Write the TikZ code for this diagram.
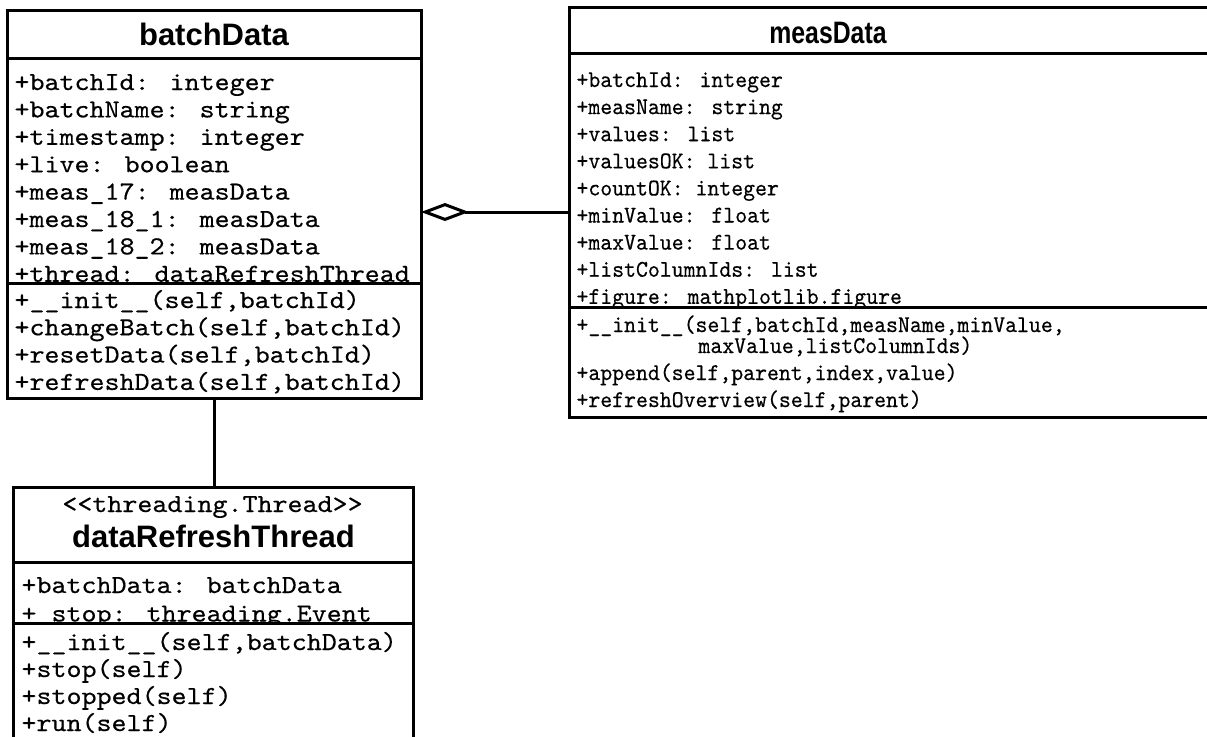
\documentclass[tikz,border=0pt]{standalone}
\usepackage{fontspec}
\setmainfont{Liberation Sans}
\newfontfamily\monoA[Ligatures=TeXOff,FakeStretch=1.1,FakeBold=0.4]{lmmono10-regular.otf}
\newfontfamily\monoB[Ligatures=TeXOff,FakeStretch=0.945,FakeBold=0.4]{lmmono10-regular.otf}
\newfontfamily\titA{Liberation Sans}
\newfontfamily\titB[FakeStretch=0.8]{Liberation Sans}
\usetikzlibrary{arrows.meta}
\begin{document}
\begin{tikzpicture}[x=0.5pt,y=-0.5pt,line width=1.5pt,
  ma/.style={font={\monoA\fontsize{13pt}{14pt}\selectfont},anchor=base west,inner sep=0pt},
  mb/.style={font={\monoB\fontsize{12pt}{14pt}\selectfont},anchor=base west,inner sep=0pt},
  ta/.style={font={\titA\bfseries\fontsize{15.5pt}{17pt}\selectfont},anchor=base,inner sep=0pt},
  tb/.style={font={\titB\bfseries\fontsize{15.5pt}{17pt}\selectfont},anchor=base,inner sep=0pt},
  umlbox/.style={draw,rectangle,inner sep=0pt,outer sep=0pt}]
\useasboundingbox (0,0) rectangle (1207,736);
% boxes
\node[umlbox,minimum width=207pt,minimum height=194pt] (bd) at (214,204) {};
\node[umlbox,minimum width=330.5pt,minimum height=205pt] (md) at (899.5,212) {};
\node[umlbox,minimum width=200pt,minimum height=136.5pt] (drt) at (213,623.5) {};
% batchData
\node[ta] (bdT) at (214,45) {batchData};
\begin{scope}
\clip (7,58) rectangle (421,281.5);
\foreach \t [count=\i from 0] in {{+batchId: integer},{+batchName: string},{+timestamp: integer},{+live: boolean},{+meas\_17: measData},{+meas\_18\_1: measData},{+meas\_18\_2: measData},{+thread: dataRefreshThread}}
  \node[ma] (bdA\i) at (13,{90+\i*27.4}) {\t};
\end{scope}
\foreach \t [count=\i from 0] in {{+\_\_init\_\_(self,batchId)},{+changeBatch(self,batchId)},{+resetData(self,batchId)},{+refreshData(self,batchId)}}
  \node[ma] (bdM\i) at (13,{308+\i*27.3}) {\t};
\draw (bd.west |- 0,58) -- (bd.east |- 0,58);
\draw (bd.west |- 0,283) -- (bd.east |- 0,283);
% measData
\node[tb] (mdT) at (828,43) {measData};
\begin{scope}
\clip (569,53) rectangle (1230,305.5);
\foreach \t [count=\i from 0] in {{+batchId: integer},{+measName: string},{+values: list},{+valuesOK: list},{+countOK: integer},{+minValue: float},{+maxValue: float},{+listColumnIds: list},{+figure: mathplotlib.figure}}
  \node[mb] (mdA\i) at (575,{87+\i*27.1}) {\t};
\end{scope}
\node[mb,text depth=0pt] (mdM0) at (575,332) {+\_\_init\_\_(self,batchId,measName,minValue,};
\node[mb,text height=4pt] (mdM1) at (697,353) {maxValue,listColumnIds)};
\node[mb] (mdM2) at (575,380) {+append(self,parent,index,value)};
\node[mb] (mdM3) at (575,407) {+refreshOverview(self,parent)};
\draw (md.west |- 0,53) -- (md.east |- 0,53);
\draw (md.west |- 0,307) -- (md.east |- 0,307);
% dataRefreshThread
\node[ma,anchor=base] (drtS) at (212.5,512) {<\kern0pt<threading.Thread>\kern0pt>};
\node[ta] (drtT) at (213.5,547) {dataRefreshThread};
\begin{scope}
\clip (13,562) rectangle (413,621.5);
\node[ma] (drtA0) at (20,593) {+batchData: batchData};
\node[ma] (drtA1) at (20,621.5) {+\_stop: threading.Event};
\end{scope}
\foreach \t [count=\i from 0] in {{+\_\_init\_\_(self,batchData)},{+stop(self)},{+stopped(self)},{+run(self)}}
  \node[ma] (drtM\i) at (20,{650+\i*27}) {\t};
\draw (drt.west |- 0,562) -- (drt.east |- 0,562);
\draw (drt.west |- 0,623) -- (drt.east |- 0,623);
% connectors
\draw[{Diamond[open,fill=white,length=24pt,width=9pt]}-] (bd.east |- md.west) -- (md.west);
\draw (bd.south) -- (bd.south |- drt.north);
\end{tikzpicture}
\end{document}
